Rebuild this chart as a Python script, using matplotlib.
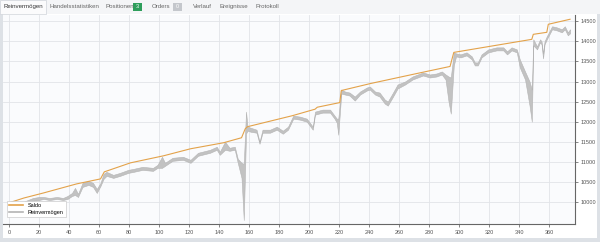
import numpy as np
import matplotlib
matplotlib.use('Agg')
import matplotlib.pyplot as plt
from matplotlib.patches import Rectangle

plt.rcParams['font.family'] = ['Liberation Sans', 'DejaVu Sans']

#-------data-------
# Saldo (balance), step-like line
saldo_x = [0, 10, 23, 45, 61, 63.5, 81, 103, 121, 143, 155, 157.5, 159, 189, 203, 204, 205.5,
           220.5, 221.5, 241, 272, 294, 296.5, 348.5, 349.5, 358.5, 359.5, 374]
saldo_y = [9980, 10100, 10225, 10450, 10575, 10750, 10975, 11150, 11325, 11475, 11600, 11825, 11875,
           12150, 12300, 12310, 12360, 12475, 12775, 12950, 13200, 13375, 13725, 14050, 14175, 14225,
           14425, 14550]

# Reinvermoegen (equity) band: high / low
eq_x = [3, 8, 11, 16, 20, 23, 27, 32, 36, 39, 42, 44, 46, 49, 53, 56, 58.5, 61, 63, 65, 69.5, 74,
        79.5, 83, 89, 96, 99, 102, 104, 109, 116, 121, 126, 134, 138.5, 140.5, 144, 147, 150.5,
        152.5, 155, 156.5, 158, 159, 161, 165, 167, 169, 174, 178.5, 182.5, 186, 189.5, 194, 198.5,
        200.5, 202.5, 204, 209, 214, 217, 218.5, 219.5, 221.5, 224, 227, 230.5, 234, 238.5, 240.5,
        244, 247, 250.5, 252.5, 256, 259, 264, 269, 276, 280.5, 285, 288.5, 291, 293, 294.5, 296.5,
        298, 301, 305, 308.5, 310.5, 312.5, 315, 319.5, 325, 329.5, 332, 335, 338.5, 340.5, 344,
        347, 348.5, 349.5, 352, 354, 355, 356, 357, 358.5, 362, 365, 368.5, 370.5, 372.5, 374]
eq_hi = [9975, 9975, 10025, 10100, 10125, 10125, 10100, 10125, 10100, 10150, 10225, 10350, 10200,
         10475, 10525, 10475, 10325, 10475, 10700, 10750, 10675, 10725, 10800, 10825, 10875, 10850,
         10925, 11125, 10975, 11100, 11125, 11050, 11225, 11300, 11375, 11250, 11500, 11350, 11375,
         11075, 10975, 10950, 12250, 11875, 11850, 11800, 11500, 11800, 11800, 11875, 11775, 11875,
         12150, 12125, 12075, 11975, 11875, 12250, 12300, 12300, 12150, 12075, 12075, 12800, 12750,
         12725, 12625, 12750, 12850, 12875, 12750, 12725, 12550, 12500, 12725, 12925, 13000, 13125,
         13225, 13175, 13200, 13250, 13175, 13125, 13100, 13725, 13700, 13675, 13725, 13625, 13475,
         13475, 13675, 13800, 13850, 13850, 13750, 13850, 13800, 13550, 13250, 13000, 12800, 14050,
         13875, 14050, 14000, 13700, 14000, 14125, 14375, 14350, 14300, 14375, 14225, 14300]
eq_lo = [9900, 9925, 9950, 10025, 10050, 10075, 10050, 10075, 10050, 10075, 10150, 10175, 10125,
         10375, 10425, 10375, 10225, 10400, 10575, 10650, 10600, 10650, 10725, 10750, 10800, 10775,
         10850, 10850, 10900, 11025, 11050, 10975, 11150, 11225, 11300, 11175, 11300, 11275, 11300,
         10975, 10600, 9550, 11700, 11775, 11750, 11725, 11450, 11725, 11725, 11800, 11700, 11800,
         12075, 12050, 12000, 11900, 11800, 12175, 12225, 12225, 12075, 11975, 11675, 12700, 12675,
         12650, 12525, 12675, 12775, 12800, 12675, 12625, 12450, 12400, 12625, 12825, 12925, 13050,
         13150, 13100, 13125, 13175, 13050, 12500, 12200, 13400, 13625, 13600, 13650, 13550, 13400,
         13400, 13600, 13725, 13775, 13775, 13675, 13775, 13725, 13350, 13050, 12400, 12000, 13900,
         13800, 13975, 13925, 13575, 13925, 14050, 14300, 14275, 14225, 14300, 14150, 14200]

xticks = np.arange(0, 361, 20)
yticks = np.arange(10000, 14501, 500)

tabs = ['Reinvermögen', 'Handelsstatistiken', 'Positionen', 'Orders', 'Verlauf', 'Ereignisse', 'Protokoll']
tab_x = [3, 50, 105, 152, 193, 220, 255]

#-------figure-------
W, H = 600, 242
fig = plt.figure(figsize=(W / 100, H / 100), dpi=100)
fig.patch.set_facecolor('#dde1e6')

def px(x, y):
    return x / W, 1 - y / H

# panel
fig.patches.append(Rectangle(px(3, 238), 594 / W, 224 / H, transform=fig.transFigure,
                             facecolor='white', edgecolor='none', zorder=-2))
# tab bar
fig.patches.append(Rectangle(px(0, 14), 1, 14 / H, transform=fig.transFigure,
                             facecolor='#f4f5f7', edgecolor='none', zorder=-2))
fig.patches.append(Rectangle(px(0, 14), 46 / W, 14 / H, transform=fig.transFigure,
                             facecolor='#fbfbfc', edgecolor='#d0d4da', lw=0.5, zorder=-1))
for t, x in zip(tabs, tab_x):
    fig.text(x / W, 1 - 6.5 / H, t, fontsize=4.4, color='#666666' if t != 'Reinvermögen' else '#333333',
             va='center', ha='left')
# badges
fig.patches.append(Rectangle(px(133, 10.5), 9 / W, 8 / H, transform=fig.transFigure,
                             facecolor='#2e9e5b', edgecolor='none', zorder=2))
fig.text(137.5 / W, 1 - 6.5 / H, '3', fontsize=4, color='white', ha='center', va='center', zorder=3)
fig.patches.append(Rectangle(px(173, 10.5), 9 / W, 8 / H, transform=fig.transFigure,
                             facecolor='#c4c7cc', edgecolor='none', zorder=2))
fig.text(177.5 / W, 1 - 6.5 / H, '0', fontsize=4, color='white', ha='center', va='center', zorder=3)

#-------chart-------
ax = fig.add_axes([3 / W, 1 - 224 / H, 572 / W, 209 / H])
ax.set_zorder(5)
ax.set_facecolor('#fafbfd')
ax.fill_between(eq_x, eq_lo, eq_hi, color='#c2c2c2', edgecolor='#b4b4b4', lw=0.4, zorder=2)
ax.plot(saldo_x, saldo_y, color='#e3a24a', lw=0.8, zorder=3)

ax.set_xlim(-4, 377.3)
ax.set_ylim(9452, 14656)
ax.set_xticks(xticks)
ax.set_yticks(yticks)
ax.yaxis.tick_right()
ax.grid(True, color='#e2e4e8', lw=0.6, zorder=0)
ax.set_axisbelow(True)
for s in ['top', 'left']:
    ax.spines[s].set_visible(False)
for s in ['bottom', 'right']:
    ax.spines[s].set_color('#666666')
    ax.spines[s].set_linewidth(0.8)
ax.tick_params(labelsize=4, colors='#555555', length=2, width=0.5, pad=2)

# legend
l1, = ax.plot([], [], color='#e3a24a', lw=1.2)
l2, = ax.plot([], [], color='#b4b4b4', lw=1.2)
leg = ax.legend([l1, l2], ['Saldo', 'Reinvermögen'], loc='lower left', fontsize=4,
                frameon=True, fancybox=False, edgecolor='#cccccc', framealpha=1,
                handlelength=2.5, borderpad=0.4, labelspacing=0.3, bbox_to_anchor=(0.002, 0.02))
leg.get_frame().set_linewidth(0.5)

plt.savefig('out.png', dpi=100, facecolor=fig.get_facecolor())
